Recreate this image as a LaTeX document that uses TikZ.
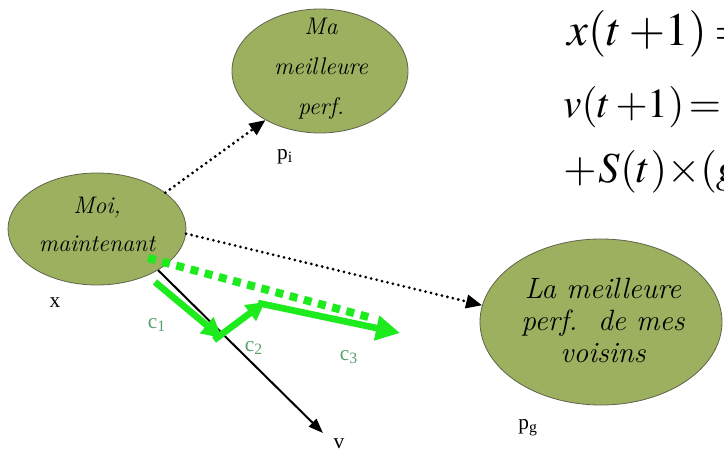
\documentclass[tikz,border=0pt]{standalone}
\usepackage{mathptmx}
\usepackage{fontspec}
\setmainfont{Liberation Serif}
\newfontfamily\handfont{Latin Modern Roman}
\usetikzlibrary{arrows.meta,shapes.geometric}
\definecolor{olivefill}{RGB}{156,176,96}
\definecolor{oliveline}{RGB}{96,100,74}
\definecolor{psogreen}{RGB}{30,235,30}
\definecolor{cgreen}{RGB}{90,160,110}

\tikzset{
  blob/.style={ellipse,draw=oliveline,fill=olivefill,line width=0.6pt,inner sep=0pt},
  handtext/.style={align=center,inner sep=0pt,font=\handfont\itshape\fontsize{18}{30}\selectfont},
  pointed/.style={dash pattern=on 0pt off 4.2pt,line cap=round,line width=2.3pt,
    -{Triangle[length=12pt,width=10pt]}},
  moveg/.style={psogreen,line width=5pt,-{Triangle[length=15pt,width=15pt]}},
  lab/.style={font=\fontsize{16}{18}\selectfont},
  clab/.style={lab,text=cgreen},
  eq/.style={anchor=base west,inner sep=0pt,font=\fontsize{35}{40}\selectfont}
}

\begin{document}
\begin{tikzpicture}[x=0.75pt,y=-0.75pt]
  \useasboundingbox (0,0) rectangle (724,452);
  \clip (0,0) rectangle (724,452);
  % the three positions
  \node[blob,minimum width=132pt,minimum height=93pt] (perso) at (320,71) {};
  \node[handtext] (persotxt) at (321,69) {Ma\\meilleure\\perf.};
  \node[blob,minimum width=133.5pt,minimum height=84pt] (moi) at (97,229) {};
  \node[handtext,font=\handfont\itshape\fontsize{18}{28.5}\selectfont] (moitxt) at (97,224) {Moi,\\maintenant};
  \node[blob,minimum width=181.5pt,minimum height=124.5pt] (voisins) at (601,322) {};
  \node[handtext,font=\handfont\itshape\fontsize{22}{24}\selectfont] (voisinstxt) at (603,320) {La meilleure\\perf.~~de mes\\voisins};
  \node[lab] (lpi) at (285,157) {p\textsubscript{i}};
  \node[lab] (lx) at (55,303) {x};
  \node[lab] (lpg) at (528,428) {p\textsubscript{g}};
  % attraction towards the best positions
  \draw[pointed] (moi.28) -- (perso.222);
  \draw[pointed] (moi.-3) -- (voisins.172);
  % velocity
  \coordinate (vend) at (323,433);
  \draw[line width=1.5pt,-{Triangle[length=11pt,width=8pt]}] (moi.-34) -- (vend);
  \node[lab] (lv) at (339,444) {v};
  % the three components of the move
  \coordinate (gs) at (148,258);
  \coordinate (ge) at (372,318);
  \draw[psogreen,line width=6pt,dash pattern=on 6pt off 5pt] (gs) -- (ge);
  \coordinate (c1s) at (155,282);
  \coordinate (c1e) at (222,338);
  \coordinate (c2s) at (214,340);
  \coordinate (c2e) at (265,302);
  \coordinate (c3e) at (400,333);
  \draw[moveg] (c1s) -- (c1e);
  \draw[moveg,-{Triangle[length=14pt,width=14pt]}] (c2s) -- (c2e);
  \draw[moveg,-{Triangle[length=18pt,width=18pt]}] (258,303) -- (c3e);
  \node[clab] (lc1) at (157,325) {c\textsubscript{1}};
  \node[clab] (lc2) at (254,348) {c\textsubscript{2}};
  \node[clab] (lc3) at (349,357) {c\textsubscript{3}};
  % update rules
  \node[eq] (eqx) at (567,46) {$x(t\mkern3mu{+}1)\mkern3mu{=}$};
  \node[eq,font=\fontsize{31}{40}\selectfont] (eqv) at (563,118) {$v(t\mkern2mu{+}1)\mkern2mu{=}\mkern2mu R$};
  \node[eq,font=\fontsize{32}{40}\selectfont] (eqs) at (563,183) {${+}\mkern1mu S(t){\times}(g$};
\end{tikzpicture}
\end{document}
